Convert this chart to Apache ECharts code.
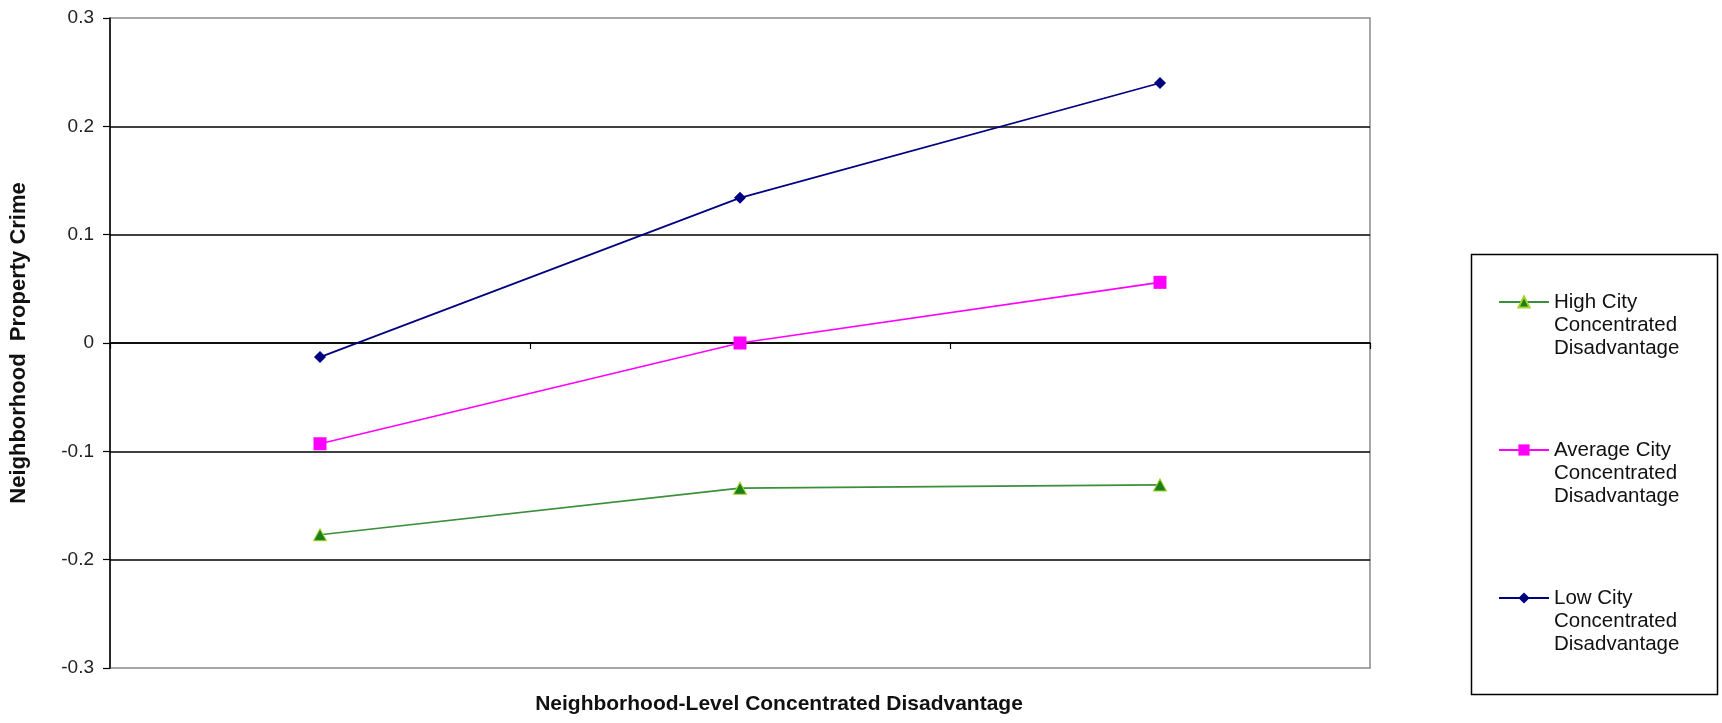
<!DOCTYPE html>
<html>
<head>
<meta charset="utf-8">
<script src="https://cdn.jsdelivr.net/npm/echarts@6/dist/echarts.min.js"></script>
<style>
html,body{margin:0;padding:0;background:#fff;}
#chart{width:1722px;height:723px;}
</style>
</head>
<body>
<div id="chart"></div>
<script>
// Data
const categories = ['Low', 'Average', 'High'];
const seriesNames = [
  'High City\nConcentrated\nDisadvantage',
  'Average City\nConcentrated\nDisadvantage',
  'Low City\nConcentrated\nDisadvantage'
];
const highCity = [-0.177, -0.134, -0.131];
const averageCity = [-0.093, 0.0, 0.056];
const lowCity = [-0.013, 0.134, 0.240];
const yTicks = { min: -0.3, max: 0.3, step: 0.1 };
const xTitle = 'Neighborhood-Level Concentrated Disadvantage';
const yTitle = 'Neighborhood  Property Crime';

const chart = echarts.init(document.getElementById('chart'));
const FONT = '"Liberation Sans", Arial, sans-serif';

chart.setOption({
  backgroundColor: '#ffffff',
  animation: false,
  grid: {
    left: 106, right: 352, top: 18, bottom: 55,
    show: true, borderColor: '#8a8a8a', borderWidth: 1.5, backgroundColor: 'transparent'
  },
  xAxis: {
    type: 'category',
    data: categories,
    boundaryGap: true,
    axisLine: { onZero: true, lineStyle: { color: '#000', width: 1.5 } },
    axisTick: { show: true, length: 6, lineStyle: { color: '#000', width: 1.2 } },
    axisLabel: { show: false },
    splitLine: { show: false }
  },
  yAxis: {
    type: 'value',
    min: yTicks.min, max: yTicks.max, interval: yTicks.step,
    name: yTitle,
    nameLocation: 'middle',
    nameGap: 80,
    nameTextStyle: { fontFamily: FONT, fontWeight: 'bold', fontSize: 22, color: '#111' },
    axisLine: { show: true, lineStyle: { color: '#000', width: 1.5 } },
    axisTick: { show: true, length: 7, lineStyle: { color: '#000', width: 1.2 } },
    axisLabel: {
      margin: 16, fontFamily: FONT, fontSize: 19, color: '#222',
      formatter: v => (Math.abs(v) < 1e-9 ? '0' : (Math.round(v * 10) / 10).toString())
    },
    splitLine: { show: true, showMinLine: false, showMaxLine: false, lineStyle: { color: '#000', width: 1.5 } }
  },
  legend: {
    orient: 'vertical',
    left: 1498,
    top: 244.5,
    padding: 0,
    itemGap: 33,
    itemWidth: 50,
    itemHeight: 14,
    data: seriesNames,
    formatter: name => '\n\n' + name,
    textStyle: { fontFamily: FONT, fontSize: 20.5, lineHeight: 23, color: '#111' }
  },
  graphic: [
    {
      type: 'rect',
      left: 1469, top: 252,
      shape: { width: 246, height: 440 },
      style: { fill: 'none', stroke: '#000', lineWidth: 1.5 },
      silent: true
    },
    {
      type: 'text',
      x: 779, y: 704,
      style: {
        text: xTitle, fontFamily: FONT, fontWeight: 'bold', fontSize: 21,
        fill: '#111', align: 'center', verticalAlign: 'middle'
      }
    }
  ],
  series: [
    {
      name: seriesNames[0], type: 'line', data: highCity,
      symbol: 'triangle', symbolSize: [13, 12],
      lineStyle: { color: '#3a8f3a', width: 1.6 },
      itemStyle: { color: '#1a801a', borderColor: '#a6d22e', borderWidth: 1 },
      z: 3
    },
    {
      name: seriesNames[1], type: 'line', data: averageCity,
      symbol: 'rect', symbolSize: 13,
      lineStyle: { color: '#ff00ff', width: 1.6 },
      itemStyle: { color: '#ff00ff', borderWidth: 0 },
      z: 4
    },
    {
      name: seriesNames[2], type: 'line', data: lowCity,
      symbol: 'diamond', symbolSize: 12,
      lineStyle: { color: '#000080', width: 1.7 },
      itemStyle: { color: '#000080', borderWidth: 0 },
      z: 5
    }
  ]
});
</script>
</body>
</html>
